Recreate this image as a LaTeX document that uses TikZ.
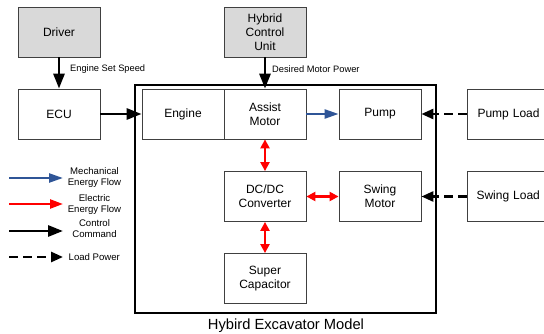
\documentclass[tikz,border=0pt]{standalone}
\usepackage{fontspec}
\setmainfont{Liberation Sans}
\usetikzlibrary{arrows.meta}
\definecolor{boxgray}{RGB}{217,217,217}
\definecolor{boxline}{RGB}{64,64,64}
\definecolor{mechblue}{RGB}{47,85,151}
\tikzset{
  blk/.style={draw=boxline, line width=0.8pt, rectangle, inner sep=0pt,
    minimum width=82pt, minimum height=50pt, align=center,
    font=\fontsize{12}{14}\selectfont},
  grayblk/.style={blk, fill=boxgray},
  ctrl/.style={line width=2.8pt, -{Triangle[length=15pt,width=11pt]}},
  mech/.style={line width=2.4pt, draw=mechblue, -{Triangle[length=14pt,width=9pt]}},
  elec/.style={line width=2.4pt, draw=red, {Triangle[length=9pt,width=9pt]}-{Triangle[length=9pt,width=9pt]}},
  elecone/.style={line width=2.4pt, draw=red, -{Triangle[length=13pt,width=9pt]}},
  loadp/.style={line width=2.6pt, dash pattern=on 9pt off 5pt, -{Triangle[length=12pt,width=10pt]}},
  lbl/.style={font=\fontsize{9.3}{11}\selectfont, inner sep=0pt, anchor=west},
  leg/.style={font=\fontsize{9.6}{11}\selectfont, inner sep=0pt, align=center}
}
\begin{document}
\begin{tikzpicture}[x=1pt, y=-1pt]
\clip (0,0) rectangle (544,334);
\fill[white] (0,0) rectangle (544,334);

% big model frame
\draw[line width=2.5pt] (135,85) rectangle (436,313);
\node[font=\fontsize{14.7}{16}\selectfont, inner sep=0pt] (title) at (286,325.5) {Hybird Excavator Model};

% boxes
\node[grayblk] (driver) at (59,32) {Driver};
\node[blk] (ecu) at (59,114) {ECU};
\node[grayblk] (hcu) at (265,32) {Hybrid\\Control\\Unit};
\node[blk] (engine) at (183,114) {Engine};
\node[blk] (assist) at (265,114) {Assist\\Motor};
\node[blk] (pump) at (380,114) {Pump};
\node[blk, minimum width=83pt, text width=70pt, align=left] (pumpload) at (508.5,114) {\hspace*{4pt}Pump Load};
\node[blk] (dcdc) at (265,196.5) {DC/DC\\Converter};
\node[blk] (swing) at (380,196.5) {Swing\\Motor};
\node[blk, minimum width=83pt, text width=70pt, align=left] (swingload) at (508.5,196.5) {\hspace*{3pt}Swing Load};
\node[blk] (supercap) at (265,278.5) {Super\\Capacitor};

% connectors
\draw[ctrl] (driver.south) -- (ecu.north);
\node[lbl] (l1) at (70,69) {Engine Set Speed};
\draw[ctrl] (ecu.east) -- (engine.west);
\draw[ctrl] (hcu.south) -- (assist.north);
\node[lbl] (l2) at (272,69) {Desired Motor Power};
\draw[mech] (assist.east) -- (pump.west);
\draw[loadp] (pumpload.west) -- (pump.east);
\draw[loadp] (swingload.west) -- (swing.east);
\draw[elec] (assist.south) -- (dcdc.north);
\draw[elec] (dcdc.south) -- (supercap.north);
\draw[elec] (dcdc.east) -- (swing.west);

% legend
\coordinate (a1) at (9,178); \coordinate (b1) at (63,178);
\coordinate (a2) at (9,204); \coordinate (b2) at (63,204);
\coordinate (a3) at (9,231); \coordinate (b3) at (63,231);
\coordinate (a4) at (9,257); \coordinate (b4) at (63,257);
\draw[mech] (a1) -- (b1);
\draw[elecone] (a2) -- (b2);
\draw[ctrl] (a3) -- (b3);
\draw[loadp] (a4) -- (b4);
\node[leg] (t1) at (94.5,178) {Mechanical\\Energy Flow};
\node[leg] (t2) at (94.5,204.5) {Electric\\Energy Flow};
\node[leg] (t3) at (94.5,228.5) {Control\\Command};
\node[leg, anchor=west] (t4) at (68.5,257) {Load Power};
\end{tikzpicture}
\end{document}
